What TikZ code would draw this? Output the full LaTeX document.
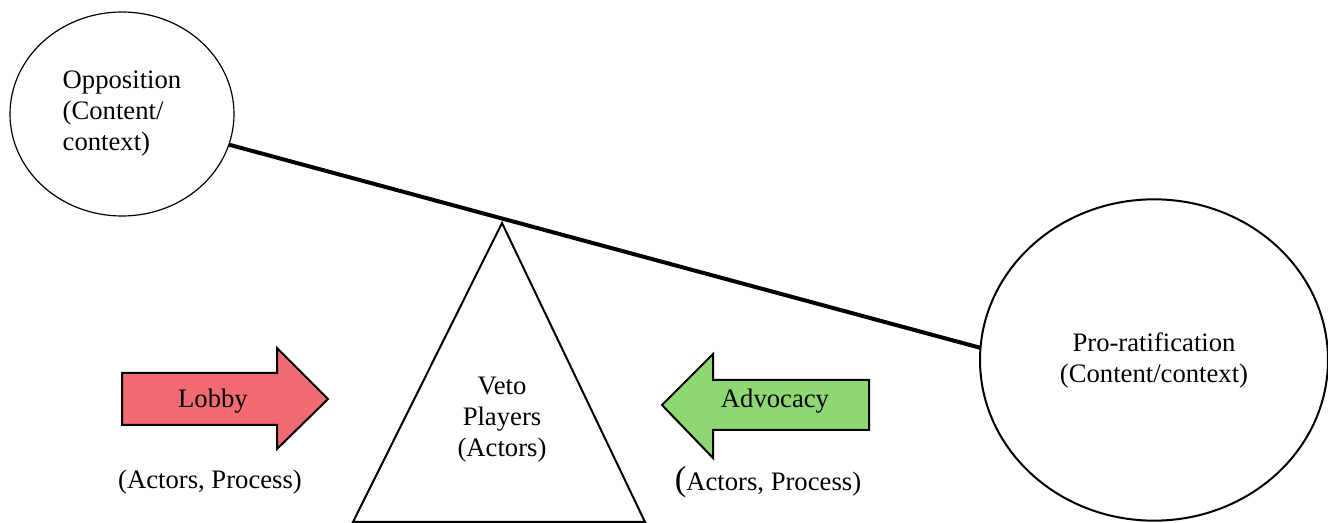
\documentclass[tikz,border=0pt]{standalone}
\usepackage{fontspec}
\setmainfont{Liberation Serif}
\usepackage{tikz}
\usetikzlibrary{shapes.geometric}

\begin{document}
\begin{tikzpicture}[x=0.75pt,y=0.75pt,yscale=-1,xscale=1,font=\fontsize{20}{23.25}\selectfont]
\path[use as bounding box] (0,0) rectangle (1328,523);
%Shape: Ellipse [id:dp_opposition]
\node [draw, ellipse, line width=0.9, inner sep=0, outer sep=0, minimum width=168pt, minimum height=153pt, align=left] (opp) at (122,114) {Opposition\\(Content/\\context)};

%Shape: Ellipse [id:dp_proratification]
\node [draw, ellipse, line width=1.5, inner sep=0, outer sep=0, minimum width=261pt, minimum height=241pt, align=center] (pro) at (1154,360) {Pro-ratification\\(Content/context)};

%Shape: Triangle [id:dp_veto]
\coordinate (apex) at (502,223);
\draw [line width=1.5] (apex) -- (645,522) -- (353,522) -- cycle ;
\node [align=center] (veto) at (502,420) {Veto\\Players\\(Actors)};

%Straight Lines [id:da_beam]
\draw [line width=3] (opp.-16.5) -- (pro.176.4) ;

%Right Arrow [id:dp_lobby]
\draw [fill={rgb, 255:red, 242; green, 106; blue, 114 }, fill opacity=1, line width=1.5] (122,373) -- (277,373) -- (277,348) -- (328,399) -- (277,449) -- (277,425) -- (122,425) -- cycle ;
\node (lobby) at (213,401) {Lobby};
\node (lobbyactors) at (210,482) {(Actors, Process)};

%Left Arrow [id:dp_advocacy]
\draw [fill={rgb, 255:red, 142; green, 216; blue, 116 }, fill opacity=1, line width=1.5] (869,380) -- (713,380) -- (713,354) -- (662,405) -- (713,458) -- (713,430) -- (869,430) -- cycle ;
\node (advocacy) at (775,401) {Advocacy};
\node (advocacyactors) at (768,482) {{\fontsize{26}{26}\selectfont(}Actors, Process)};

\end{tikzpicture}
\end{document}
